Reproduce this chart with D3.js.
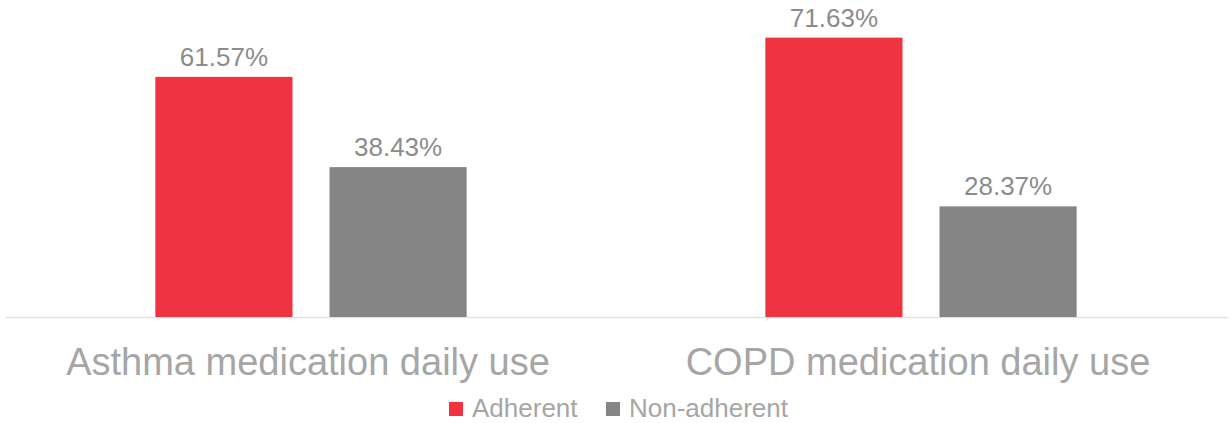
<!DOCTYPE html>
<html><head><meta charset="utf-8">
<script src="https://cdn.jsdelivr.net/npm/d3@7"></script>
<style>body{margin:0;background:#fff;}svg{display:block;font-family:"Liberation Sans",Arial,sans-serif;}</style>
</head><body><div id="chart"></div>
<script>
const categories = ["Asthma medication daily use", "COPD medication daily use"];
const seriesNames = ["Adherent", "Non-adherent"];
const adherent = [61.57, 71.63];
const nonAdherent = [38.43, 28.37];
const colors = ["#f03340", "#858585"];

const W = 1231, H = 423;
const svg = d3.select("#chart").append("svg").attr("width", W).attr("height", H);

const x0 = d3.scaleBand().domain(categories).range([5, 1227]).paddingInner(0).paddingOuter(0.00164);
const x1 = d3.scaleBand().domain(seriesNames).range([0, x0.bandwidth()])
  .paddingInner(0.2126).paddingOuter(0.8575);
const y = d3.scaleLinear().domain([0, 80]).range([317, 5]);

const data = categories.map((c, i) => ({cat: c, vals: [adherent[i], nonAdherent[i]]}));

// baseline axis
const xAxis = svg.append("g").attr("transform", "translate(0,317)")
  .call(d3.axisBottom(x0).tickSize(0).tickPadding(0).tickFormat(""));
xAxis.select(".domain").attr("stroke", "#e3e3e3").attr("stroke-width", 1.5);

const groups = svg.selectAll("g.grp").data(data).join("g").attr("class", "grp")
  .attr("transform", d => `translate(${x0(d.cat)},0)`);

groups.selectAll("rect").data(d => d.vals.map((v, j) => ({v, s: seriesNames[j], j})))
  .join("rect")
  .attr("x", d => x1(d.s))
  .attr("width", x1.bandwidth())
  .attr("y", d => y(d.v))
  .attr("height", d => y(0) - y(d.v))
  .attr("fill", d => colors[d.j]);

groups.selectAll("text.val").data(d => d.vals.map((v, j) => ({v, s: seriesNames[j], j})))
  .join("text").attr("class", "val")
  .attr("x", d => x1(d.s) + x1.bandwidth() / 2)
  .attr("y", d => y(d.v) - 11)
  .attr("text-anchor", "middle")
  .attr("font-size", 26)
  .attr("fill", "#8c8c8c")
  .text(d => d.v.toFixed(2) + "%");

// category labels
svg.selectAll("text.cat").data(categories).join("text").attr("class", "cat")
  .attr("x", d => x0(d) + x0.bandwidth() / 2 - 3)
  .attr("y", 375)
  .attr("text-anchor", "middle")
  .attr("font-size", 38)
  .attr("fill", "#a6a6a6")
  .text(d => d);

// legend
const legendX = [449, 606];
const leg = svg.selectAll("g.leg").data(seriesNames).join("g").attr("class", "leg")
  .attr("transform", (d, i) => `translate(${legendX[i]},0)`);
leg.append("rect").attr("x", 0).attr("y", 402).attr("width", 14).attr("height", 14)
  .attr("fill", (d, i) => colors[i]);
leg.append("text").attr("x", 23).attr("y", 416.5).attr("font-size", 26)
  .attr("fill", "#a6a6a6").text(d => d);
</script></body></html>
